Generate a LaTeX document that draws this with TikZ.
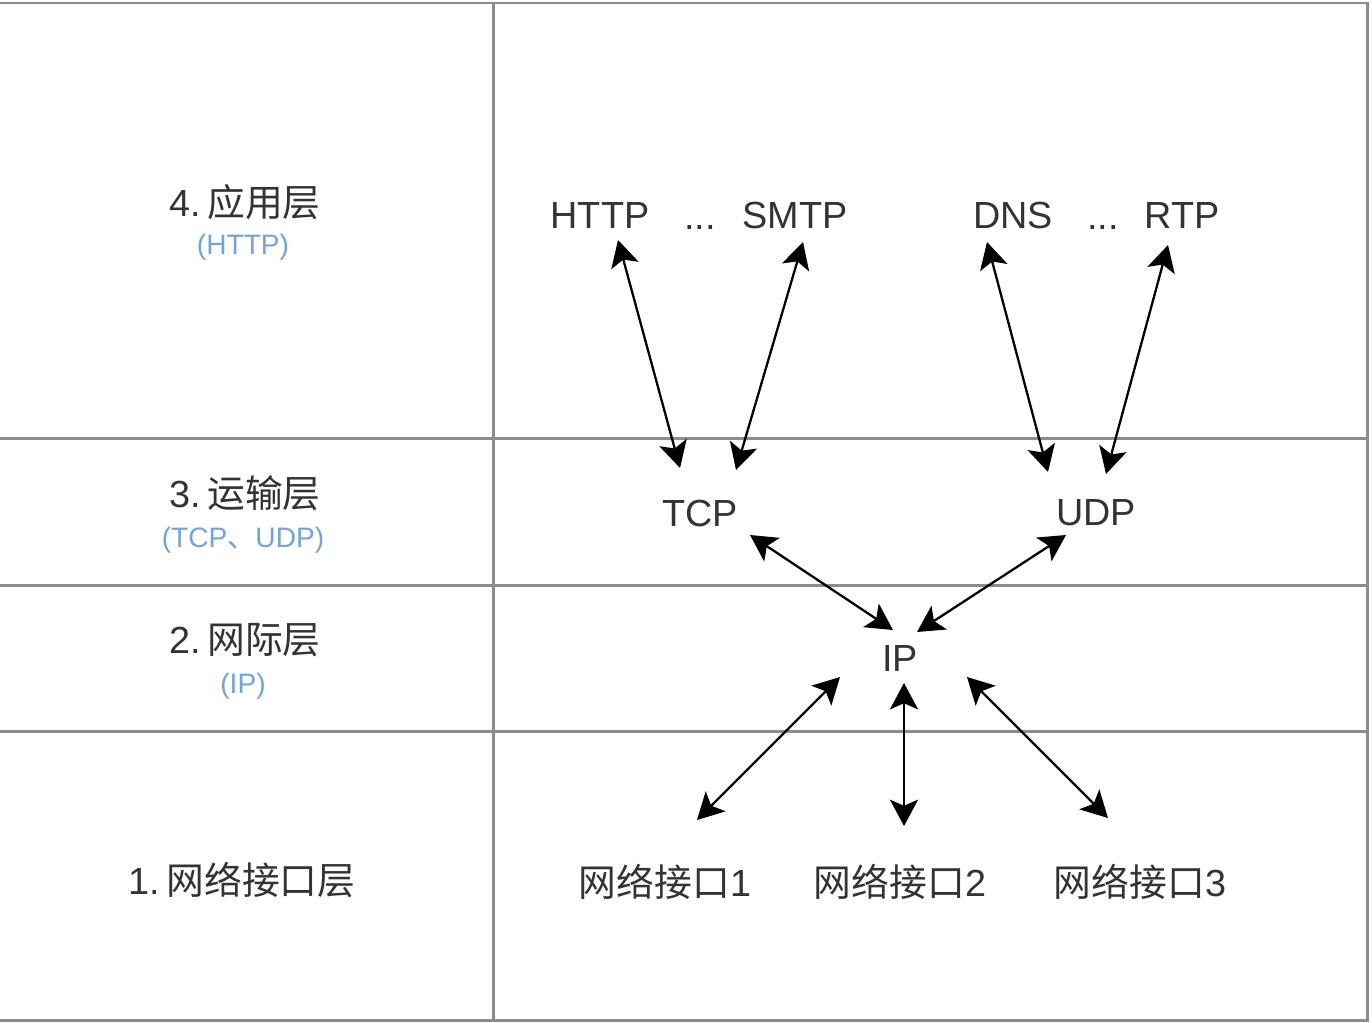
\documentclass[tikz,border=0pt]{standalone}
\usepackage{fontspec}
\setmainfont{Liberation Sans}
\newfontfamily\cjk{Noto Sans CJK SC}
\usetikzlibrary{arrows.meta,calc}
\definecolor{txt}{HTML}{333333}
\definecolor{blu}{HTML}{6FA3E6}
\definecolor{gridc}{HTML}{8C8C8C}
\begin{document}
\begin{tikzpicture}[x=0.02cm,y=-0.02cm,
  lbl/.style={text=txt,font=\fontsize{21.5}{24}\selectfont,inner sep=0pt},
  sub/.style={text=blu,font=\fontsize{16}{18}\selectfont,inner sep=0pt},
  gridline/.style={draw=gridc,line width=1.7pt},
  tip/.style={},
  link/.style={line width=1.3pt,{Stealth[length=15pt,width=16pt,inset=3.5pt]}-{Stealth[length=15pt,width=16pt,inset=3.5pt]}}]
\useasboundingbox (0,0) rectangle (1372,1022);
% frame and grid
\draw[gridline] (-5,3) -- (1367,3) -- (1367,1020) -- (-5,1020);
\draw[gridline] (-5,438) -- (1367,438);
\draw[gridline] (-5,585) -- (1367,585);
\draw[gridline] (-5,731) -- (1367,731);
\draw[gridline] (493,3) -- (493,1020);
% layer labels
\node[lbl] (L4) at (245,202) {4.\,{\cjk 应用层}};
\node[sub] (L4s) at (243,247) {(HTTP)};
\node[lbl] (L3) at (245,493) {3.\,{\cjk 运输层}};
\node[sub] (L3s) at (243,540) {(TCP{\cjk 、}UDP)};
\node[lbl] (L2) at (245,640) {2.\,{\cjk 网际层}};
\node[sub] (L2s) at (243,686) {(IP)};
\node[lbl] (L1) at (242,880) {1.\,{\cjk 网络接口层}};
% protocol nodes
\node[lbl] (HTTP) at (600,215) {HTTP};
\node[lbl,anchor=base] (d1) at (700,229) {...};
\node[lbl] (SMTP) at (795,215) {SMTP};
\node[lbl] (DNS) at (1013,215) {DNS};
\node[lbl,anchor=base] (d2) at (1103,229) {...};
\node[lbl] (RTP) at (1182,215) {RTP};
\node[lbl] (TCP) at (700,513) {TCP};
\node[lbl] (UDP) at (1096,513) {UDP};
\node[lbl] (IP) at (900,658) {IP};
\node[lbl] (N1) at (665,882) {{\cjk 网络接口}1};
\node[lbl] (N2) at (900,882) {{\cjk 网络接口}2};
\node[lbl] (N3) at (1140,882) {{\cjk 网络接口}3};
% connectors
\draw[link] ($(HTTP)+(18,25)$) -- ($(TCP)+(-20,-45)$);
\draw[link] ($(SMTP)+(8,27)$) -- ($(TCP)+(36,-43)$);
\draw[link] ($(DNS)+(-26,27)$) -- ($(UDP)+(-48,-41)$);
\draw[link] ($(RTP)+(-14,30)$) -- ($(UDP)+(10,-39)$);
\draw[link] ($(TCP)+(50,22)$) -- ($(IP)+(-7,-28)$);
\draw[link] ($(UDP)+(-30,22)$) -- ($(IP)+(17,-26)$);
\draw[link] ($(IP)+(-60,19)$) -- ($(N1)+(32,-62)$);
\draw[link] ($(IP)+(4,25)$) -- ($(N2)+(4,-56)$);
\draw[link] ($(IP)+(67,19)$) -- ($(N3)+(-32,-64)$);
\end{tikzpicture}
\end{document}
